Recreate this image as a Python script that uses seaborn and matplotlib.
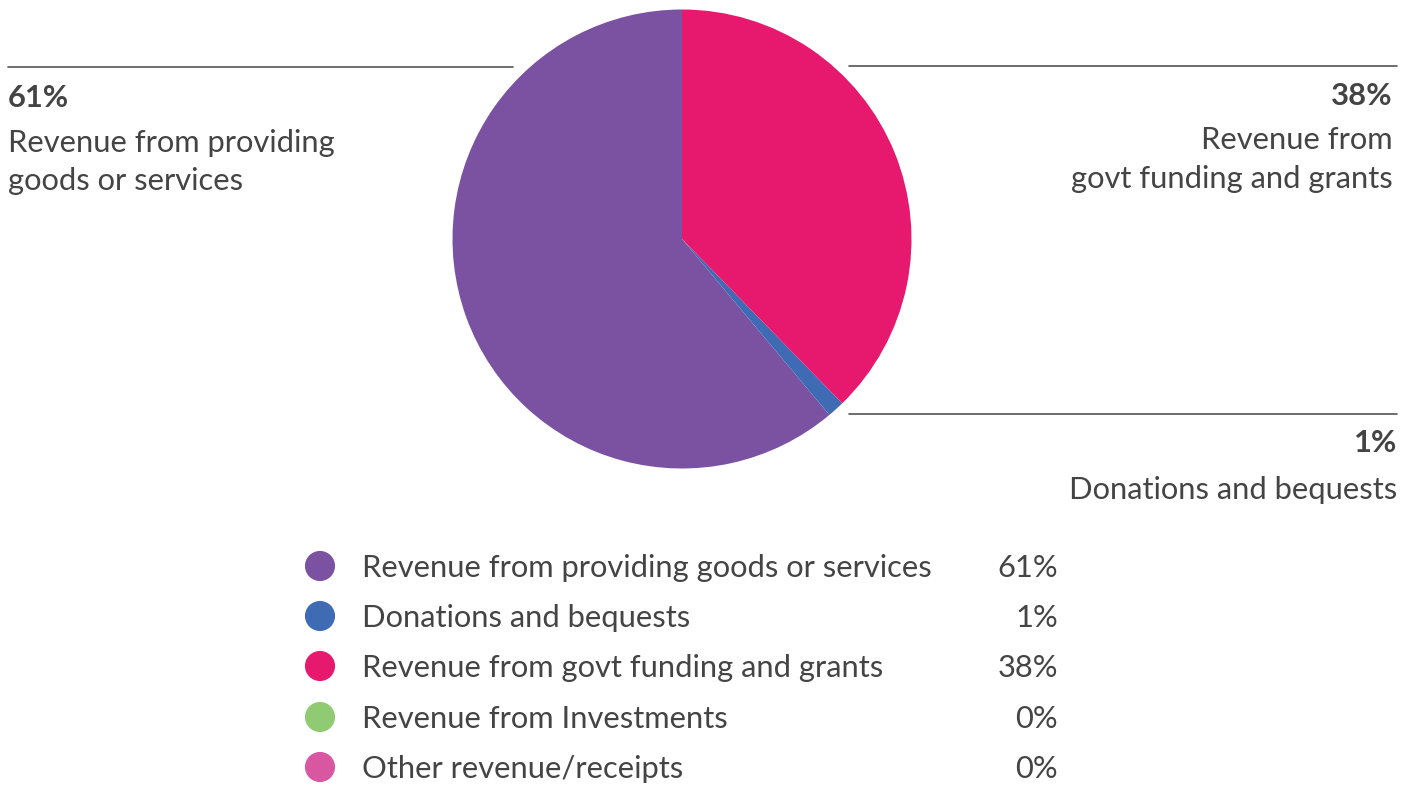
import matplotlib
matplotlib.use("Agg")
import matplotlib.pyplot as plt
import seaborn as sns
import pandas as pd

categories = ["Revenue from providing goods or services", "Donations and bequests",
              "Revenue from govt funding and grants", "Revenue from Investments",
              "Other revenue/receipts"]
values = [61.1, 1.2, 37.7, 0.0, 0.0]
pct_labels = ["61%", "1%", "38%", "0%", "0%"]
colors = ["#7B52A1", "#3F6AB4", "#E6196E", "#90CB74", "#D957A0"]

sns.set_theme(style="white")
plt.rcParams['font.family'] = ['Lato', 'DejaVu Sans']

W, H = 1416, 787
fig = plt.figure(figsize=(W / 100, H / 100), dpi=100)
ax = fig.add_axes([0, 0, 1, 1])

def Y(py):
    return H - py

nz = [(v, c) for v, c in zip(values, colors) if v > 0]
ax.pie([v for v, _ in nz], colors=[c for _, c in nz], startangle=90, counterclock=True,
       center=(682, Y(239)), radius=229.5, wedgeprops=dict(linewidth=0))

tc = "#444444"
lc = "#555555"
fs = 22.2
# callout lines
ax.plot([8, 513], [Y(67), Y(67)], color=lc, lw=1.2)
ax.plot([849, 1397], [Y(66), Y(66)], color=lc, lw=1.2)
ax.plot([849, 1397], [Y(414), Y(414)], color=lc, lw=1.2)

# left callout
ax.text(8, Y(98), pct_labels[0], fontsize=fs, fontweight="bold", color=tc, ha="left", va="center")
ax.text(8, Y(143), "Revenue from providing", fontsize=fs, color=tc, ha="left", va="center")
ax.text(8, Y(181), "goods or services", fontsize=fs, color=tc, ha="left", va="center")
# right top callout
ax.text(1393, Y(96), pct_labels[2], fontsize=fs, fontweight="bold", color=tc, ha="right", va="center")
ax.text(1393, Y(140), "Revenue from", fontsize=fs, color=tc, ha="right", va="center")
ax.text(1393, Y(179), "govt funding and grants", fontsize=fs, color=tc, ha="right", va="center")
# right bottom callout
ax.text(1397, Y(443), pct_labels[1], fontsize=fs, fontweight="bold", color=tc, ha="right", va="center")
ax.text(1397, Y(490), "Donations and bequests", fontsize=fs, color=tc, ha="right", va="center")

# legend
rows_y = [566, 616, 666, 717, 767]
df = pd.DataFrame({"x": [320] * 5, "y": [Y(r) for r in rows_y], "cat": categories})
sns.scatterplot(data=df, x="x", y="y", hue="cat", palette=colors, s=470, linewidth=0,
                ax=ax, legend=False)
for cat, p, ry in zip(categories, pct_labels, rows_y):
    ax.text(362, Y(ry + 2), cat, fontsize=fs, color=tc, ha="left", va="center")
    ax.text(1058, Y(ry + 2), p, fontsize=fs, color=tc, ha="right", va="center")

ax.set_xlim(0, W)
ax.set_ylim(0, H)
ax.set_aspect("equal")
ax.axis("off")
fig.savefig("out.png", dpi=100)
